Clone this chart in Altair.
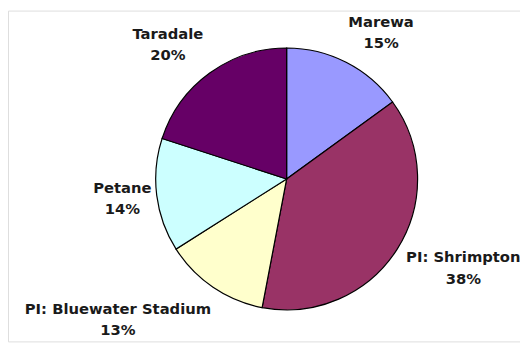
import altair as alt
import pandas as pd

# Data
categories = ["Marewa", "PI: Shrimpton", "PI: Bluewater Stadium", "Petane", "Taradale"]
shares = [15, 38, 13, 14, 20]
colors = ["#9999FF", "#993366", "#FFFFCC", "#CCFFFF", "#660066"]
# label placement (polar, degrees clockwise from top; pixels from centre)
label_angle = [32.8, 116.8, 230.2, 263.2, 318.5]
label_radius = [177, 201, 223, 168, 182]

df = pd.DataFrame({
    "category": categories,
    "share": shares,
    "idx": list(range(len(categories))),
    "label": [f"{c}\n{s}%" for c, s in zip(categories, shares)],
    "langle": label_angle,
    "lradius": label_radius,
})

cx, cy = 283, 171

pie = alt.Chart(df).mark_arc(
    radius=133, stroke="black", strokeWidth=1.2
).encode(
    theta=alt.Theta("share:Q", stack=True),
    order=alt.Order("idx:Q"),
    color=alt.Color("category:N", scale=alt.Scale(domain=categories, range=colors), legend=None),
    x=alt.value(cx),
    y=alt.value(cy),
)

labels = alt.Chart(df).mark_text(
    font="DejaVu Sans", fontWeight="bold", fontSize=15, lineBreak="\n",
    lineHeight=22, align="center", baseline="middle", color="#1a1a1a", dy=-11
).encode(
    theta=alt.Theta("langle:Q", scale=alt.Scale(domain=[0, 360], range=[0, 6.283185307179586])),
    radius=alt.Radius("lradius:Q", scale=None),
    text="label:N",
    x=alt.value(cx),
    y=alt.value(cy),
)

chart = alt.layer(pie, labels).resolve_scale(theta="independent").properties(
    width=520, height=336, padding=0, autosize=alt.AutoSizeParams(type="none")
).configure_view(stroke=None).configure(background="white")

chart.save("out.html", embed_options={"renderer": "svg", "actions": False})
